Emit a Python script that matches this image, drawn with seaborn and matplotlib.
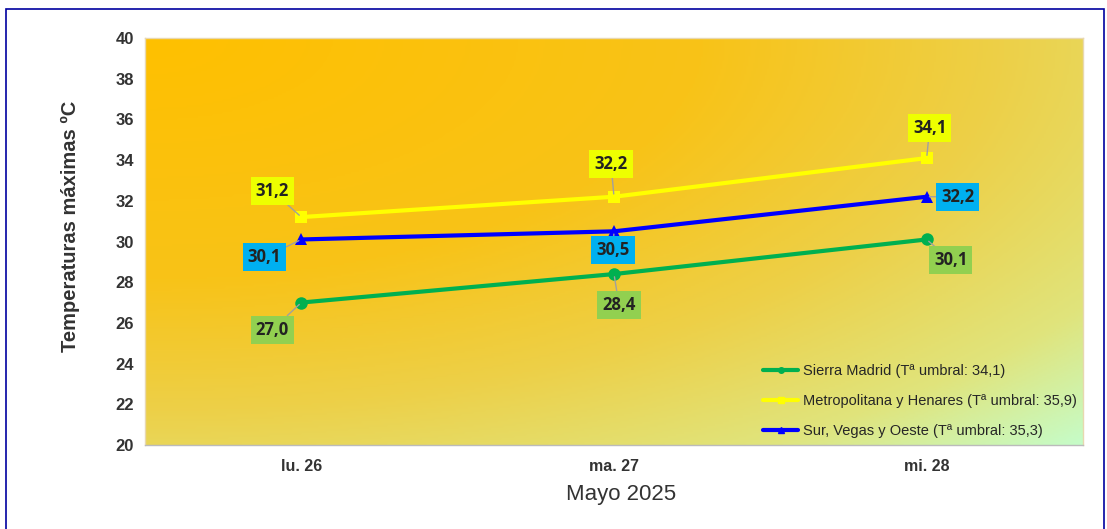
import numpy as np
import pandas as pd
import matplotlib
matplotlib.use("Agg")
import matplotlib.pyplot as plt
import seaborn as sns
from matplotlib.colors import LinearSegmentedColormap
from matplotlib.lines import Line2D
from matplotlib.patches import Rectangle

# ---- data ----
days = ["lu. 26", "ma. 27", "mi. 28"]
series_names = [
    "Sierra Madrid (Tª umbral: 34,1)",
    "Metropolitana y Henares (Tª umbral: 35,9)",
    "Sur, Vegas y Oeste (Tª umbral: 35,3)",
]
sierra = [27.0, 28.4, 30.1]
metro = [31.2, 32.2, 34.1]
sur = [30.1, 30.5, 32.2]
y_ticks = list(range(20, 41, 2))

line_colors = ["#00B050", "#FFFF00", "#0000FF"]
box_colors = ["#92D050", "#EEFF00", "#00B0F0"]
markers = ["o", "s", "^"]

df = pd.DataFrame({
    "day": days * 3,
    "temp": sierra + metro + sur,
    "serie": [series_names[0]] * 3 + [series_names[1]] * 3 + [series_names[2]] * 3,
})

sns.set_theme(style="white")
plt.rcParams["font.family"] = ["Liberation Sans", "DejaVu Sans"]

fig = plt.figure(figsize=(11.07, 5.29), dpi=100)
ax = fig.add_axes([145 / 1107, 1 - 445 / 529, (1083 - 145) / 1107, (445 - 38) / 529])

# gradient background
h, w = 200, 460
xx, yy = np.meshgrid(np.linspace(0, 1, w), np.linspace(0, 1, h))
t = np.sqrt((xx ** 2 + yy ** 2) / 2.0)
cmap = LinearSegmentedColormap.from_list(
    "bg", [(0.0, "#FFC000"), (0.42, "#F8C318"), (0.65, "#EDD048"), (0.85, "#E0E47C"), (1.0, "#C6FCC8")]
)
ax.imshow(t, cmap=cmap, extent=[0, 1, 0, 1], transform=ax.transAxes,
          aspect="auto", zorder=0, interpolation="bilinear")

sns.lineplot(data=df, x="day", y="temp", hue="serie", style="serie",
             palette=dict(zip(series_names, line_colors)),
             markers=dict(zip(series_names, markers)), dashes=False,
             linewidth=3, markersize=9, markeredgewidth=0, ax=ax, legend=False, zorder=3)

ax.set_xlim(-0.5, 2.5)
ax.set_ylim(20, 40)
ax.set_yticks(y_ticks)
ax.set_yticklabels([str(v) for v in y_ticks], fontsize=12, fontweight="bold", color="#333333")
ax.set_xticks([0, 1, 2])
ax.set_xticklabels(days, fontsize=11.5, fontweight="bold", color="#333333")
ax.set_xticks([-0.5, 0.5, 1.5, 2.5], minor=True)
ax.tick_params(axis="x", which="major", length=0, pad=10)
ax.tick_params(axis="x", which="minor", length=6, color="#BBBBBB", width=1)
ax.tick_params(axis="y", length=0, pad=8)
ax.set_xlabel("Mayo 2025", fontsize=16, color="#333333")
ax.set_ylabel("Temperaturas máximas ºC", fontsize=14.5, fontweight="bold", color="#333333")
ax.xaxis.set_label_coords(0.5075, -0.095)
ax.yaxis.set_label_coords(-0.069, 0.536)
for side in ["left", "top", "right"]:
    ax.spines[side].set_color("#E8D8B0")
    ax.spines[side].set_linewidth(1)
ax.spines["bottom"].set_color("#BBBBBB")
ax.spines["bottom"].set_linewidth(1)

# data labels
all_vals = [sierra, metro, sur]
offsets_px = [
    [(-29, -27), (5, -31), (24, -21)],
    [(-29, 26), (-3, 33), (3, 30)],
    [(-37, -18), (-1, -19), (31, 0)],
]
for vals, bc, offs in zip(all_vals, box_colors, offsets_px):
    for i, v in enumerate(vals):
        dx, dy = offs[i]
        ax.annotate(f"{v:.1f}".replace(".", ","), xy=(i, v),
                    xytext=(dx * 0.72, dy * 0.72), textcoords="offset points",
                    ha="center", va="center", fontsize=12, fontweight="bold",
                    color="#222222", family=["Open Sans", "DejaVu Sans"],
                    bbox=dict(boxstyle="square,pad=0.3", fc=bc, ec="none"),
                    arrowprops=dict(arrowstyle="-", color="#A0A0A0", lw=1,
                                    shrinkA=0, shrinkB=2),
                    zorder=5)

handles = [Line2D([0], [0], color=c, lw=3, marker=m, markersize=4)
           for c, m in zip(line_colors, markers)]
leg = ax.legend(handles, series_names, loc="lower right", frameon=False,
                fontsize=10.5, handlelength=2.4, handletextpad=0.3,
                labelspacing=1.1, bbox_to_anchor=(1.007, -0.015))
for txt in leg.get_texts():
    txt.set_color("#262626")

fig.patches.append(Rectangle((6 / 1107, -0.01), (1104 - 6) / 1107, 1 - 9 / 529 + 0.01,
                             transform=fig.transFigure, fill=False,
                             edgecolor="#0000A0", linewidth=1.2))

fig.savefig("out.png", dpi=100)
